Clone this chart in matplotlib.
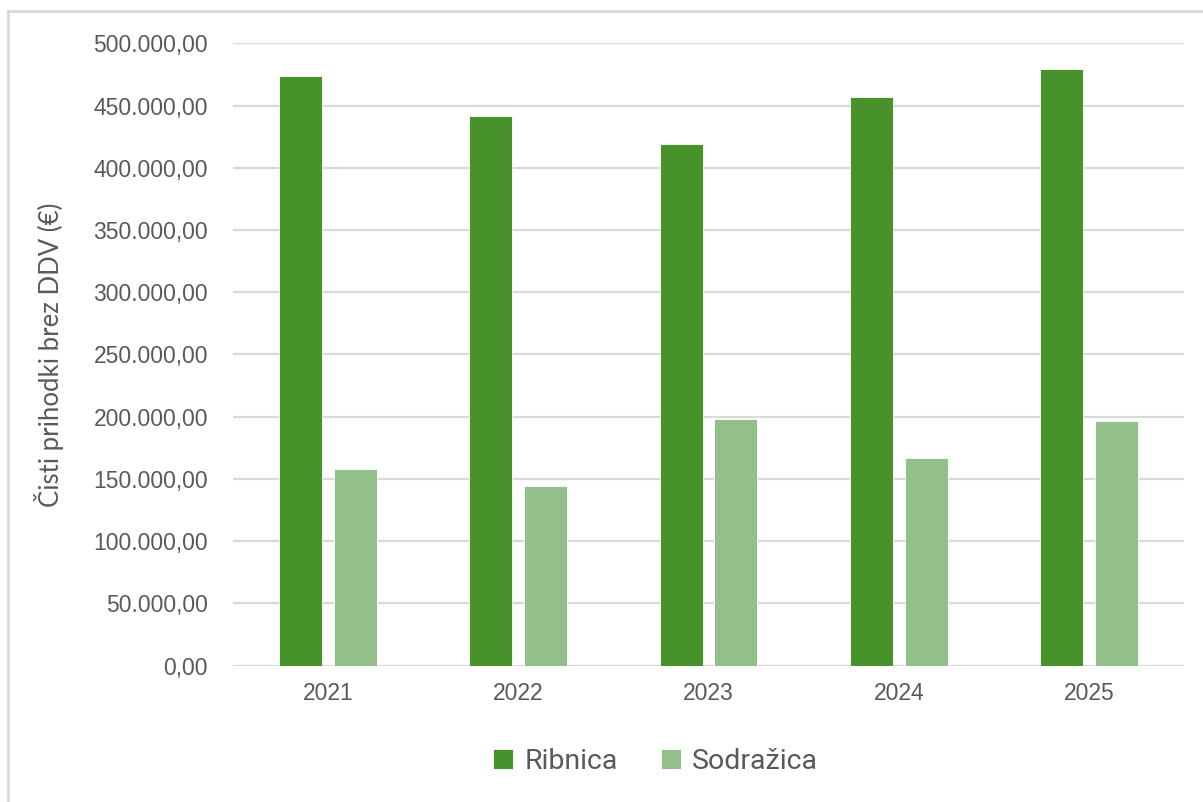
import numpy as np
import matplotlib
matplotlib.use("Agg")
import matplotlib.pyplot as plt
from matplotlib.lines import Line2D
from matplotlib.ticker import FuncFormatter

# podatki
leta = ["2021", "2022", "2023", "2024", "2025"]
ribnica = [474100, 441600, 419100, 457000, 479600]
sodrazica = [158000, 144600, 198400, 167100, 196300]

temno = "#47922A"
svetlo = "#93C08A"
siva = "#595959"
mreza = "#D9D9D9"

fig = plt.figure(figsize=(12.03, 8.02), dpi=100)
ax = fig.add_axes([0.1937, 0.170, 0.9842 - 0.1937, 0.946 - 0.170])

x = np.arange(len(leta))
sirina = 0.226
razmik = 0.063
ax.bar(x - (sirina + razmik) / 2, ribnica, sirina, color=temno,
       edgecolor="white", linewidth=0.6, label="Ribnica", zorder=3)
ax.bar(x + (sirina + razmik) / 2, sodrazica, sirina, color=svetlo,
       edgecolor="white", linewidth=0.6, label="Sodražica", zorder=3)

ax.set_xlim(-0.5, len(leta) - 0.5)
ax.set_ylim(0, 500000)
ax.set_yticks(np.arange(0, 500001, 50000))

def fmt(v, pos):
    s = f"{v:,.2f}"
    return s.replace(",", "X").replace(".", ",").replace("X", ".")

ax.yaxis.set_major_formatter(FuncFormatter(fmt))
ax.set_xticks(x)
ax.set_xticklabels(leta)

ax.grid(axis="y", color=mreza, linewidth=1.6, zorder=0)
for s in ax.spines.values():
    s.set_visible(False)
ax.tick_params(axis="both", length=0, colors=siva, labelsize=16.5)
ax.tick_params(axis="y", pad=18)
ax.tick_params(axis="x", pad=12)
for t in ax.get_xticklabels() + ax.get_yticklabels():
    t.set_fontfamily("Liberation Sans")

ax.set_ylabel("Čisti prihodki brez DDV (€)", fontsize=18.5, color=siva,
              family="Lato")
ax.yaxis.set_label_coords(-0.178, 0.5)

leg = fig.legend(loc="center", bbox_to_anchor=(0.545, 0.05), ncol=2,
                 frameon=False, handlelength=0.7,
                 handleheight=0.7, handletextpad=0.4, columnspacing=1.5,
                 prop={"family": "Roboto", "size": 20.5})
for t in leg.get_texts():
    t.set_color(siva)

# okvir grafikona
fig.add_artist(Line2D([8 / 1203, 8 / 1203], [0, 1 - 11 / 802],
                      transform=fig.transFigure, color="#D9D9D9", linewidth=2))
fig.add_artist(Line2D([8 / 1203, 1], [1 - 11 / 802, 1 - 11 / 802],
                      transform=fig.transFigure, color="#D9D9D9", linewidth=2))

fig.savefig("out.png", dpi=100, facecolor="white")
